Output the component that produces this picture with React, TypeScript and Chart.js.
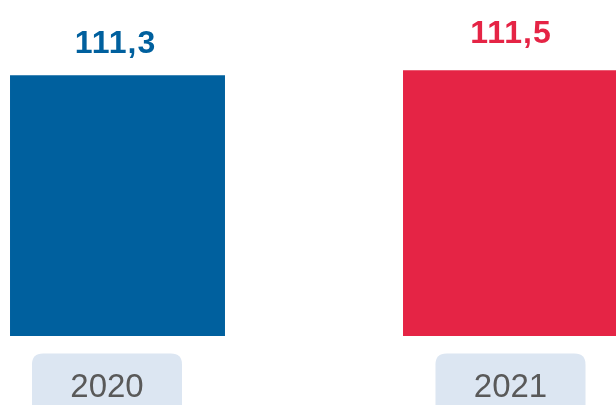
import React, { useEffect, useRef } from "react";
import { Chart, registerables } from "chart.js";

Chart.register(...registerables);

const categories = ["2020", "2021"];
const values = [111.3, 111.5];
const valueLabels = ["111,3", "111,5"];
const barColors = ["#00609E", "#E52445"];

const labelGap = [22, 27];
const labelShift = [-2, 0.5];
const boxShift = [-10.5, 0];

const App = () => {
  const ref = useRef<HTMLCanvasElement | null>(null);

  useEffect(() => {
    document.body.style.margin = "0";
    const ctx = ref.current!;
    const decor = {
      id: "decor",
      afterDatasetsDraw(chart: any) {
        const c = chart.ctx;
        const meta = chart.getDatasetMeta(0);
        c.save();
        meta.data.forEach((bar: any, i: number) => {
          c.font = "bold 32px 'Liberation Sans', Arial, sans-serif";
          (c as any).letterSpacing = "1px";
          c.fillStyle = barColors[i];
          c.textAlign = "center";
          c.textBaseline = "alphabetic";
          c.fillText(valueLabels[i], bar.x + labelShift[i], bar.y - labelGap[i]);
          (c as any).letterSpacing = "0px";
          const cx = bar.x + boxShift[i];
          const w = 150;
          const top = 353.5;
          const h = 70;
          const r = 11;
          const x0 = cx - w / 2;
          c.fillStyle = "#DCE6F2";
          c.beginPath();
          c.moveTo(x0 + r, top);
          c.lineTo(x0 + w - r, top);
          c.quadraticCurveTo(x0 + w, top, x0 + w, top + r);
          c.lineTo(x0 + w, top + h);
          c.lineTo(x0, top + h);
          c.lineTo(x0, top + r);
          c.quadraticCurveTo(x0, top, x0 + r, top);
          c.closePath();
          c.fill();
          c.font = "33px 'Liberation Sans', Arial, sans-serif";
          c.fillStyle = "#595959";
          c.fillText(categories[i], cx, 397);
        });
        c.restore();
      },
    };
    const chart = new Chart(ctx, {
      type: "bar",
      data: {
        labels: categories,
        datasets: [
          {
            data: values,
            backgroundColor: barColors,
            categoryPercentage: 1,
            barPercentage: 0.547,
          },
        ],
      },
      options: {
        animation: false,
        responsive: false,
        maintainAspectRatio: false,
        layout: { padding: { top: 0, bottom: 69, left: 0, right: 0 } },
        plugins: { legend: { display: false }, tooltip: { enabled: false } },
        scales: {
          x: { display: false },
          y: { display: false, min: 100.9, max: 114.3 },
        },
      },
      plugins: [decor],
    });
    return () => chart.destroy();
  }, []);

  return (
    <div
      style={{
        position: "fixed",
        left: 0,
        top: 0,
        width: 616,
        height: 405,
        overflow: "hidden",
        background: "#fff",
      }}
    >
      <canvas
        ref={ref}
        width={786}
        height={405}
        style={{ position: "absolute", left: -79, top: 0, width: 786, height: 405 }}
      />
    </div>
  );
};

export default App;
